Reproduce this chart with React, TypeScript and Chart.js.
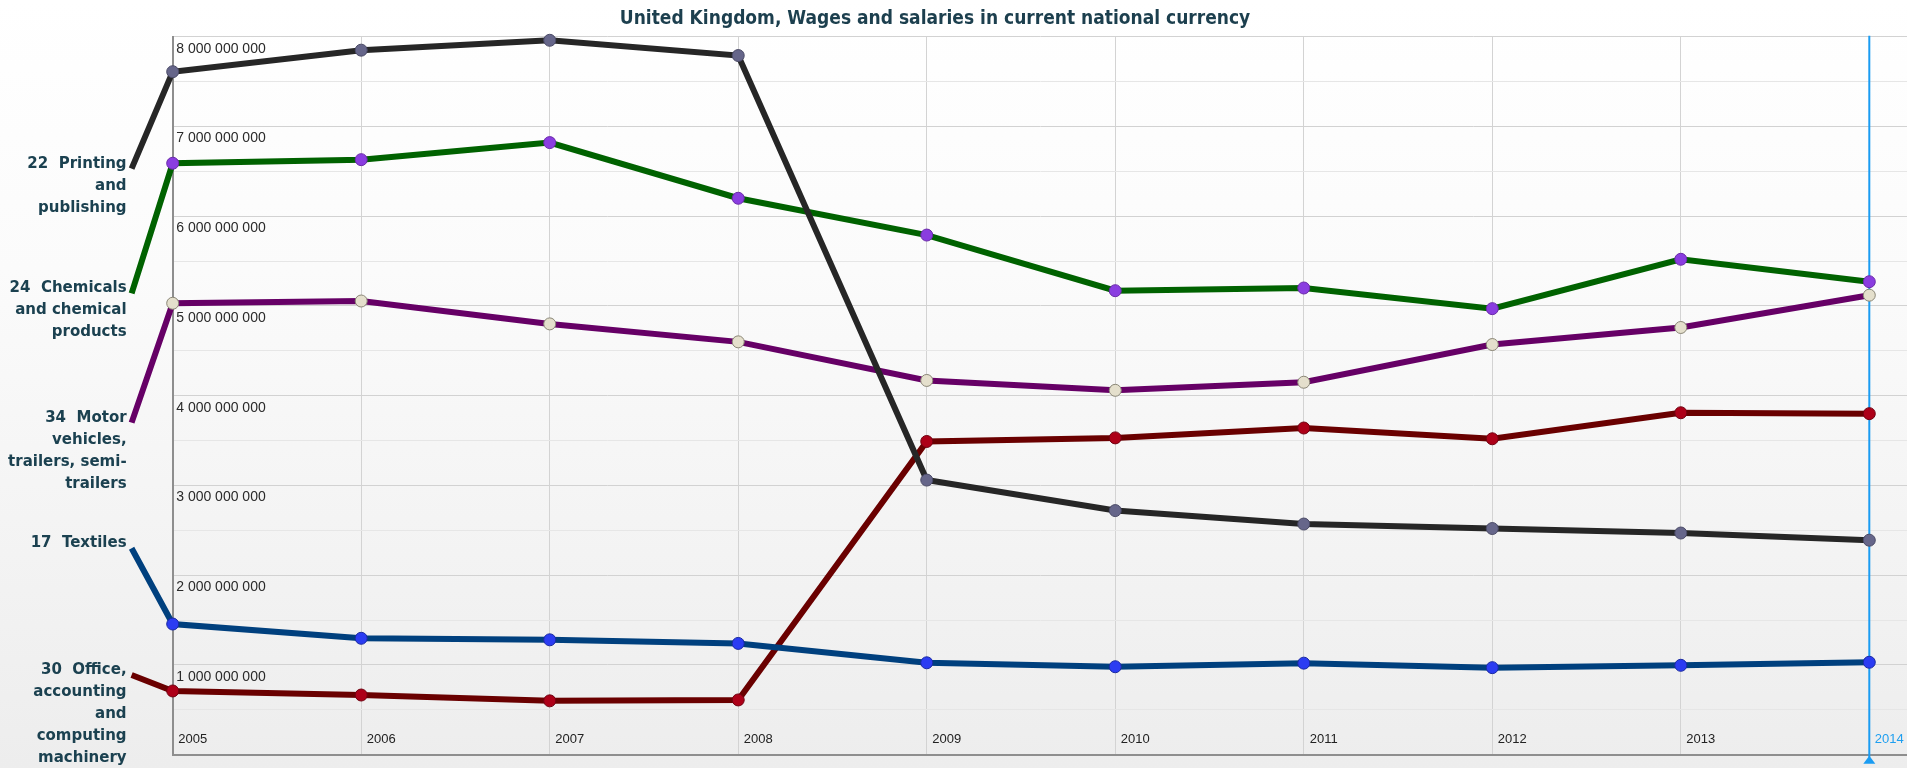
import React, { useEffect, useRef } from 'react';
import { Chart, registerables } from 'chart.js';

Chart.register(...registerables);

const chartTitle = 'United Kingdom, Wages and salaries in current national currency';
const years = [2005, 2006, 2007, 2008, 2009, 2010, 2011, 2012, 2013, 2014];
const highlightYear = 2014;

const printing = [7.61e9, 7.85e9, 7.96e9, 7.79e9, 3.06e9, 2.72e9, 2.57e9, 2.52e9, 2.47e9, 2.39e9];
const chemicals = [6.59e9, 6.63e9, 6.82e9, 6.2e9, 5.79e9, 5.17e9, 5.2e9, 4.97e9, 5.52e9, 5.27e9];
const motor = [5.03e9, 5.055e9, 4.8e9, 4.6e9, 4.17e9, 4.06e9, 4.15e9, 4.57e9, 4.76e9, 5.12e9];
const textiles = [1.456e9, 1.297e9, 1.28e9, 1.24e9, 1.024e9, 0.98e9, 1.02e9, 0.97e9, 0.996e9, 1.03e9];
const office = [0.71e9, 0.665e9, 0.6e9, 0.61e9, 3.49e9, 3.53e9, 3.64e9, 3.52e9, 3.81e9, 3.8e9];

// value at which each series' label leader line starts (left of the axis)
const labelAnchorValues = [6.53e9, 5.14e9, 3.7e9, 2.3e9, 0.888e9];
const labelAnchorYear = 2004.782;

const seriesLabels = [
  ['22  Printing', 'and', 'publishing'],
  ['24  Chemicals', 'and chemical', 'products'],
  ['34  Motor', 'vehicles,', 'trailers, semi-', 'trailers'],
  ['17  Textiles'],
  ['30  Office,', 'accounting', 'and', 'computing', 'machinery'],
];

const lineColors = ['#262626', '#006200', '#660066', '#00407e', '#6a0000'];
const markerColors = ['#66668a', '#8a3de0', '#e4dfcc', '#2b3cf2', '#ad0018'];
const markerBorders = ['#4a4a66', '#6a2aa8', '#8a8676', '#1a2aa0', '#700010'];

const seriesValues = [printing, chemicals, motor, textiles, office];

const yMin = 0;
const yMax = 8e9;
const yStep = 5e8;
const xMax = 2014.2;

function formatBig(v: number): string {
  return String(Math.round(v)).replace(/\B(?=(\d{3})+(?!\d))/g, ' ');
}

export default function App() {
  const ref = useRef<HTMLCanvasElement | null>(null);

  useEffect(() => {
    if (!ref.current) return;

    const overlay = {
      id: 'overlay',
      beforeDatasetsDraw(chart: any) {
        const { ctx, chartArea, scales } = chart;
        const x = scales.x.getPixelForValue(highlightYear);
        ctx.save();
        ctx.strokeStyle = '#1a9cf2';
        ctx.lineWidth = 2;
        ctx.beginPath();
        ctx.moveTo(x, chartArea.top - 1);
        ctx.lineTo(x, chartArea.bottom + 3);
        ctx.stroke();
        ctx.fillStyle = '#1a9cf2';
        ctx.beginPath();
        ctx.moveTo(x, chartArea.bottom + 1);
        ctx.lineTo(x - 6, chartArea.bottom + 9);
        ctx.lineTo(x + 6, chartArea.bottom + 9);
        ctx.closePath();
        ctx.fill();
        ctx.restore();
      },
      afterDraw(chart: any) {
        const { ctx } = chart;
        ctx.save();
        ctx.fillStyle = '#1c3f4e';
        ctx.font = 'bold 19px "DejaVu Sans Condensed", "DejaVu Sans", sans-serif';
        ctx.textAlign = 'center';
        ctx.textBaseline = 'middle';
        ctx.fillText(chartTitle, 935, 19);

        ctx.font = 'bold 15px "DejaVu Sans", sans-serif';
        ctx.textAlign = 'right';
        ctx.fillStyle = '#1b4150';
        seriesLabels.forEach((lines, i) => {
          const meta = chart.getDatasetMeta(i);
          const p = meta.data[0];
          if (!p) return;
          lines.forEach((t, j) => {
            ctx.fillText(t, p.x - 5, p.y - 5 + j * 22);
          });
        });
        ctx.restore();
      },
    };

    const datasets = seriesValues.map((vals, i) => ({
      label: seriesLabels[i].join(' '),
      data: [
        { x: labelAnchorYear, y: labelAnchorValues[i] },
        ...years.map((yr, k) => ({ x: yr, y: vals[k] })),
      ],
      borderColor: lineColors[i],
      borderWidth: 6,
      backgroundColor: markerColors[i],
      pointBackgroundColor: markerColors[i],
      pointBorderColor: markerBorders[i],
      pointBorderWidth: 1,
      pointRadius: [0, ...years.map(() => 6)],
      tension: 0,
      clip: false as any,
      fill: false,
    }));

    const chart = new Chart(ref.current, {
      type: 'line',
      data: { datasets },
      plugins: [overlay],
      options: {
        animation: false,
        responsive: false,
        devicePixelRatio: 1,
        events: [],
        layout: { padding: { left: 165.7, top: 36.7, right: 0, bottom: 20.7 } },
        plugins: {
          legend: { display: false },
          title: { display: false },
          tooltip: { enabled: false },
        },
        scales: {
          x: {
            type: 'linear',
            min: years[0],
            max: xMax,
            afterBuildTicks: (scale: any) => {
              scale.ticks = years.map((v) => ({ value: v }));
            },
            ticks: {
              mirror: true,
              padding: 7.3,
              align: 'center',
              labelOffset: 20,
              maxRotation: 0,
              autoSkip: false,
              font: { family: '"Liberation Sans", Arial, sans-serif', size: 13 },
              color: (c: any) => (c.tick && c.tick.value === highlightYear ? '#1e9ff0' : '#222222'),
              callback: (v: any) => String(v),
            },
            grid: { color: '#d3d3d3', lineWidth: 1, drawTicks: false },
            border: { color: '#8e8e8e', width: 2 },
          },
          y: {
            type: 'linear',
            min: yMin,
            max: yMax,
            ticks: {
              stepSize: yStep,
              mirror: true,
              padding: 3.5,
              labelOffset: 12,
              font: { family: '"Liberation Sans", Arial, sans-serif', size: 14 },
              color: '#2a2a2a',
              callback: (v: any) => (Number(v) % 1e9 === 0 && Number(v) > 0 ? formatBig(Number(v)) : ''),
            },
            grid: {
              color: (c: any) => (c.tick && c.tick.value % 1e9 === 0 ? '#d2d2d2' : '#e6e6e6'),
              lineWidth: 1,
              drawTicks: false,
            },
            border: { color: '#8e8e8e', width: 2 },
          },
        },
      },
    });

    return () => chart.destroy();
  }, []);

  return (
    <div
      style={{
        position: 'fixed',
        left: 0,
        top: 0,
        width: 1907,
        height: 768,
        overflow: 'hidden',
        background: 'linear-gradient(#ffffff 0%, #fbfbfb 35%, #ededed 100%)',
      }}
    >
      <canvas ref={ref} width={1914} height={790} style={{ display: 'block' }} />
    </div>
  );
}
